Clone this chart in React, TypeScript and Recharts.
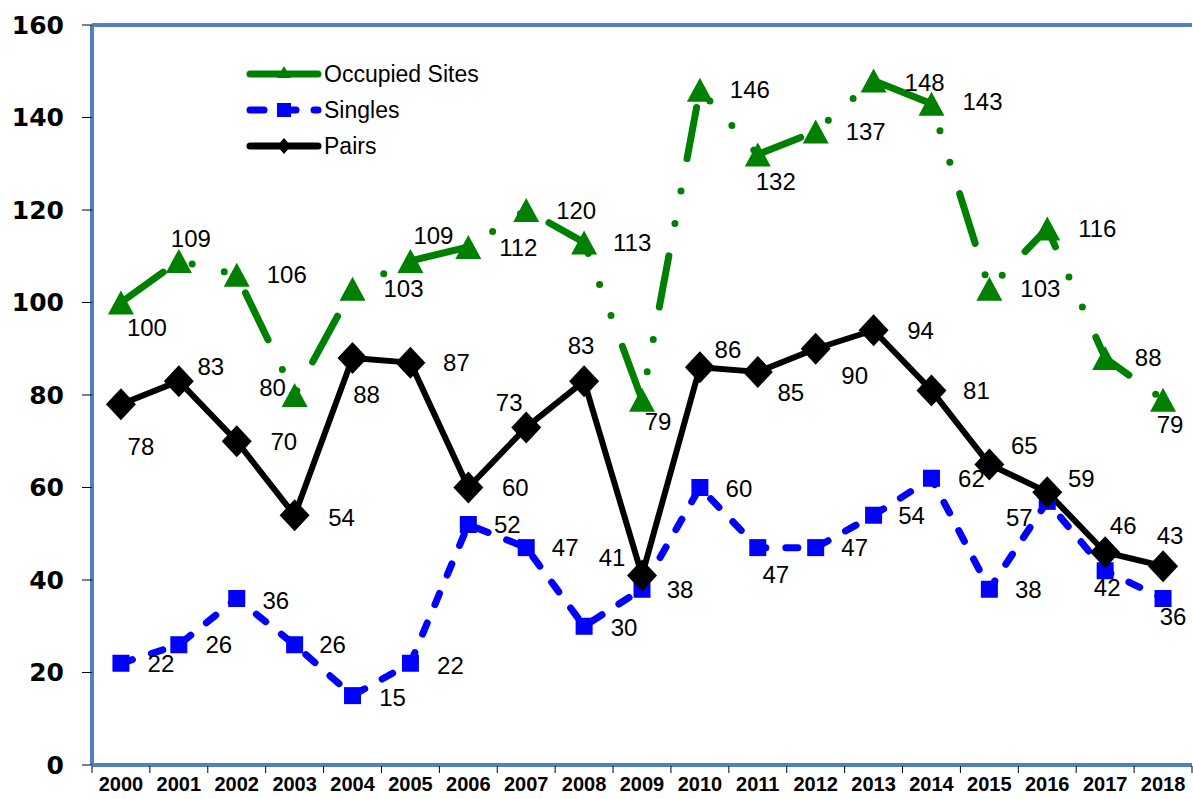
import React from 'react';
import {
  LineChart,
  Line,
  XAxis,
  YAxis,
  Legend,
  LabelList,
  ReferenceLine
} from 'recharts';

const years = ['2000', '2001', '2002', '2003', '2004', '2005', '2006', '2007', '2008', '2009',
  '2010', '2011', '2012', '2013', '2014', '2015', '2016', '2017', '2018'];
const occupiedSites = [100, 109, 106, 80, 103, 109, 112, 120, 113, 79, 146, 132, 137, 148, 143, 103, 116, 88, 79];
const singles = [22, 26, 36, 26, 15, 22, 52, 47, 30, 38, 60, 47, 47, 54, 62, 38, 57, 42, 36];
const pairs = [78, 83, 70, 54, 88, 87, 60, 73, 83, 41, 86, 85, 90, 94, 81, 65, 59, 46, 43];
const yTicks = [0, 20, 40, 60, 80, 100, 120, 140, 160];
const legendOrder = ['occupied', 'singles', 'pairs'];

// label placement (dx, dy from the point), layout only
const occupiedLabelPos = [[26, 25], [12, -22], [50, 0], [-22, -8], [51, 0], [23, -25], [50, 0], [50, 0], [48, 0], [16, 22],
  [50, 0], [18, 27], [50, 0], [51, 2], [51, -2], [51, 0], [50, 0], [43, -1], [7, 25]];
const singlesLabelPos = [[40, 0], [40, 0], [39, 2], [38, 0], [40, 2], [40, 2], [39, 0], [39, 0], [40, 1], [38, 0],
  [39, 1], [18, 27], [39, 0], [38, 0], [40, 0], [39, 0], [-28, 16], [2, 17], [10, 18]];
const pairsLabelPos = [[20, 42], [32, -15], [47, 0], [47, 2], [14, 36], [46, 0], [47, 0], [-17, -25], [-3, -36], [-30, -18],
  [28, -18], [33, 21], [39, 27], [47, 0], [45, 0], [35, -19], [34, -14], [18, -27], [7, -31]];

const data = years.map((year, i) => ({
  year,
  occupied: occupiedSites[i],
  singles: singles[i],
  pairs: pairs[i]
}));

const W = 1193;
const H = 799;
const PLOT_LEFT = 92;
const PLOT_RIGHT = 1192;
const HALF = (PLOT_RIGHT - PLOT_LEFT) / years.length / 2;
const FRAME = '#4F81BD';
const GREEN = '#008000';
const BLUE = '#0000FF';
const LABEL_FONT = '"Liberation Sans", Arial, sans-serif';

const TriangleDot = (props: any) => {
  const { cx, cy } = props;
  if (cx == null || cy == null) return null;
  return <polygon points={`${cx},${cy - 12} ${cx + 13},${cy + 12} ${cx - 13},${cy + 12}`} fill={GREEN} />;
};

const SquareDot = (props: any) => {
  const { cx, cy } = props;
  if (cx == null || cy == null) return null;
  return <rect x={cx - 8.5} y={cy - 8.5} width={17} height={17} fill={BLUE} />;
};

const DiamondDot = (props: any) => {
  const { cx, cy } = props;
  if (cx == null || cy == null) return null;
  return <polygon points={`${cx},${cy - 16} ${cx + 15},${cy} ${cx},${cy + 16} ${cx - 15},${cy}`} fill="#000" />;
};

const makeLabel = (pos: number[][]) => (props: any) => {
  const { x, y, value, index } = props;
  const [dx, dy] = pos[index] || [0, 0];
  return (
    <text x={x + dx} y={y + dy} textAnchor="middle" dominantBaseline="central"
      fontSize={24} fontFamily={LABEL_FONT} fill="#000">
      {value}
    </text>
  );
};

const YearTick = (props: any) => {
  const { x, y, payload, index } = props;
  return (
    <g>
      <line x1={x - HALF} y1={y + 1} x2={x - HALF} y2={y + 8} stroke="#000" strokeWidth={1} />
      {index === years.length - 1 && (
        <line x1={x + HALF} y1={y + 1} x2={x + HALF} y2={y + 8} stroke="#000" strokeWidth={1} />
      )}
      <text x={x} y={y + 26} textAnchor="middle" fontSize={20} fontWeight="bold"
        fontFamily={'"Liberation Sans Narrow", "Arial Narrow", "Liberation Sans", sans-serif'} fill="#000">
        {payload.value}
      </text>
    </g>
  );
};

const legendStyle: Record<string, any> = {
  occupied: { stroke: GREEN, dash: undefined, marker: 'triangle' },
  singles: { stroke: BLUE, dash: '14 18', marker: 'square' },
  pairs: { stroke: '#000', dash: undefined, marker: 'diamond' }
};

const LegendContent = (props: any) => {
  const items = [...(props.payload || [])].sort(
    (a: any, b: any) => legendOrder.indexOf(a.dataKey) - legendOrder.indexOf(b.dataKey)
  );
  return (
    <svg width={300} height={110}>
      {items.map((item: any, i: number) => {
        const st = legendStyle[item.dataKey];
        const cy = 24 + i * 36;
        const mx = 46;
        return (
          <g key={item.dataKey}>
            <line x1={12} y1={cy} x2={80} y2={cy} stroke={st.stroke} strokeWidth={7}
              strokeLinecap="round" strokeDasharray={st.dash} />
            {st.marker === 'triangle' && (
              <polygon points={`${mx},${cy - 8} ${mx + 7},${cy + 4} ${mx - 7},${cy + 4}`} fill={GREEN} />
            )}
            {st.marker === 'square' && <rect x={mx - 7} y={cy - 7} width={14} height={14} fill={BLUE} />}
            {st.marker === 'diamond' && (
              <polygon points={`${mx},${cy - 8} ${mx + 7},${cy} ${mx},${cy + 8} ${mx - 7},${cy}`} fill="#000" />
            )}
            <text x={86} y={cy} dominantBaseline="central" fontSize={23} fontFamily={LABEL_FONT} fill="#000">
              {item.value}
            </text>
          </g>
        );
      })}
    </svg>
  );
};

export default function App() {
  return (
    <div style={{ position: 'absolute', left: 0, top: 0, width: W, height: H, background: '#fff' }}>
      <LineChart width={W} height={H} data={data} margin={{ top: 25, right: W - PLOT_RIGHT, bottom: 0, left: 0 }}>
        <XAxis
          dataKey="year"
          height={34}
          padding={{ left: HALF, right: HALF }}
          tickLine={false}
          tickSize={0}
          tickMargin={0}
          interval={0}
          tick={<YearTick />}
          axisLine={{ stroke: FRAME, strokeWidth: 4 }}
        />
        <YAxis
          width={PLOT_LEFT}
          domain={[0, 160]}
          ticks={yTicks}
          interval={0}
          tickSize={10}
          tickMargin={18}
          tickLine={{ stroke: '#000', strokeWidth: 1 }}
          axisLine={{ stroke: FRAME, strokeWidth: 4 }}
          tick={{ fontSize: 25, fontWeight: 'bold', fill: '#000', fontFamily: '"DejaVu Sans", sans-serif' }}
        />
        <ReferenceLine y={160} stroke={FRAME} strokeWidth={4} />
        <Legend
          layout="horizontal"
          verticalAlign="middle"
          align="center"
          content={<LegendContent />}
          wrapperStyle={{ left: 238, top: 50, width: 300, height: 110 }}
        />
        <Line
          dataKey="occupied"
          name="Occupied Sites"
          stroke={GREEN}
          strokeWidth={7}
          strokeLinecap="round"
          strokeDasharray="52 33 0 33 0 33"
          dot={<TriangleDot />}
          activeDot={false}
          isAnimationActive={false}
        >
          <LabelList dataKey="occupied" content={makeLabel(occupiedLabelPos)} />
        </Line>
        <Line
          dataKey="singles"
          name="Singles"
          stroke={BLUE}
          strokeWidth={7}
          strokeLinecap="round"
          strokeDasharray="12 20"
          dot={<SquareDot />}
          activeDot={false}
          isAnimationActive={false}
        >
          <LabelList dataKey="singles" content={makeLabel(singlesLabelPos)} />
        </Line>
        <Line
          dataKey="pairs"
          name="Pairs"
          stroke="#000"
          strokeWidth={6}
          strokeLinejoin="round"
          dot={<DiamondDot />}
          activeDot={false}
          isAnimationActive={false}
        >
          <LabelList dataKey="pairs" content={makeLabel(pairsLabelPos)} />
        </Line>
      </LineChart>
    </div>
  );
}
